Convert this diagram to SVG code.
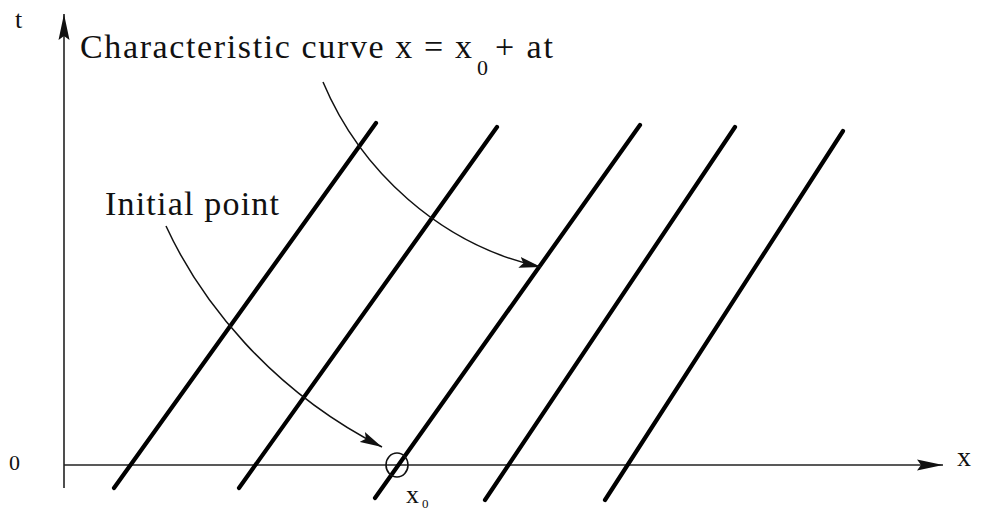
<svg xmlns="http://www.w3.org/2000/svg" width="981" height="512" viewBox="0 0 981 512">
  <defs>
    <style>
      .lbl { font-family: "Liberation Serif", "Times New Roman", serif; fill: #111; }
      .axis { stroke: #222; stroke-width: 1.6; fill: none; }
      .char { stroke: #000; stroke-width: 4.2; stroke-linecap: round; fill: none; }
      .pointer { stroke: #111; stroke-width: 1.5; fill: none; }
    </style>
    <marker id="axisHead" markerUnits="userSpaceOnUse" markerWidth="30" markerHeight="14" refX="26" refY="6" orient="auto">
      <path d="M0,0.5 L26,6 L0,11.5 L4,6 Z" fill="#111"/>
    </marker>
    <marker id="ptrHead" markerUnits="userSpaceOnUse" markerWidth="24" markerHeight="12" refX="22" refY="6" orient="auto">
      <path d="M0,0.5 L22,6 L0,11.5 L4,6 Z" fill="#111"/>
    </marker>
  </defs>
  <rect width="981" height="512" fill="#fff"/>

  <g id="axes">
    <line class="axis" x1="64" y1="488" x2="64" y2="14" marker-end="url(#axisHead)"/>
    <line class="axis" x1="64" y1="465" x2="943" y2="465" marker-end="url(#axisHead)"/>
    <text class="lbl" x="15" y="28" font-size="26">t</text>
    <text class="lbl" x="9" y="470" font-size="22">0</text>
    <text class="lbl" x="957" y="466" font-size="28">x</text>
  </g>

  <g id="characteristics">
    <line class="char" x1="114" y1="488" x2="376" y2="123"/>
    <line class="char" x1="239" y1="488" x2="497" y2="127"/>
    <line class="char" x1="375" y1="498" x2="640" y2="125"/>
    <line class="char" x1="485" y1="500" x2="735" y2="127"/>
    <line class="char" x1="605" y1="500" x2="843" y2="131"/>
  </g>

  <g id="initial-point-marker">
    <ellipse cx="397" cy="465" rx="11" ry="12" fill="none" stroke="#111" stroke-width="1.6"/>
    <text class="lbl" x="406" y="503" font-size="26">x</text>
    <text class="lbl" x="422" y="508" font-size="13">0</text>
  </g>

  <g id="label-characteristic">
    <text class="lbl" x="80" y="58" font-size="34" textLength="392" lengthAdjust="spacing">Characteristic curve x = x</text>
    <text class="lbl" x="477" y="75" font-size="22">0</text>
    <text class="lbl" x="495" y="58" font-size="34" textLength="58" lengthAdjust="spacing">+ at</text>
  </g>

  <g id="label-initial">
    <text class="lbl" x="105" y="215" font-size="34" textLength="174" lengthAdjust="spacing">Initial point</text>
  </g>

  <g id="connectors">
    <path class="pointer" d="M323,82 C360,170 440,245 541,267" marker-end="url(#ptrHead)"/>
    <path class="pointer" d="M166,226 C200,300 270,390 382,447" marker-end="url(#ptrHead)"/>
  </g>
</svg>
